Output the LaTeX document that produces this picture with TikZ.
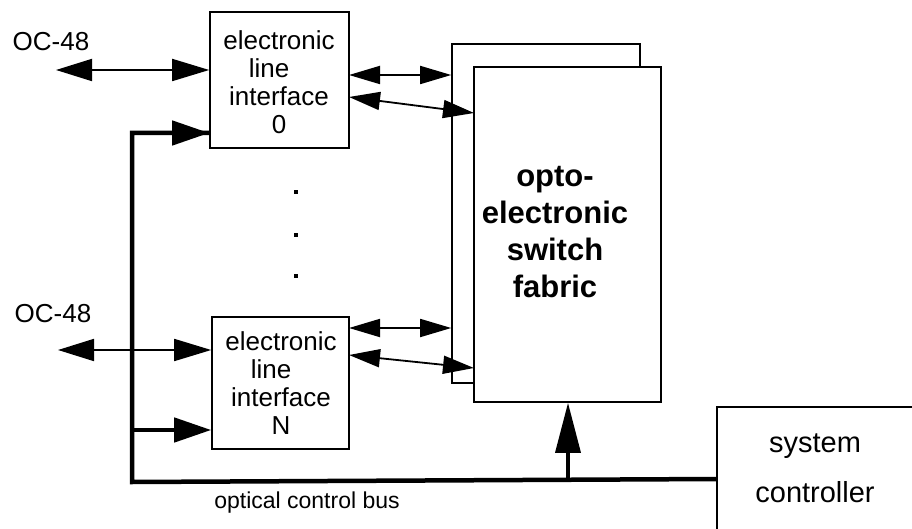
\documentclass[tikz,border=0pt]{standalone}
\usepackage{fontspec}
\setmainfont{Liberation Sans}
\usetikzlibrary{arrows.meta}
\tikzset{
  box/.style={draw, line width=1.6pt, fill=white, inner sep=0pt},
  boxtext/.style={align=center, font=\fontsize{26}{28}\selectfont},
  sig/.style={line width=1.8pt},
  bigtip/.style={-{Triangle[length=37pt,width=22pt]}},
  bigboth/.style={{Triangle[length=36pt,width=22pt]}-{Triangle[length=37pt,width=22pt]}},
  smallboth/.style={{Triangle[length=31pt,width=18pt]}-{Triangle[length=31pt,width=18pt]}},
  bus/.style={line width=4.5pt},
  dotmark/.style={fill=black, minimum size=4pt, inner sep=0pt},
  label/.style={font=\fontsize{26}{28}\selectfont}
}
\begin{document}
\begin{tikzpicture}[x=1pt,y=-1pt]
\useasboundingbox (0,0) rectangle (912,529);
% fabric
\node[box, minimum width=188pt, minimum height=339pt] (fabback) at (546,213.5) {};
\node[box, minimum width=187pt, minimum height=335pt] (fabfront) at (567.5,234.5) {};
\node[align=center, font=\bfseries\fontsize{31}{37}\selectfont] (fabtext) at (555,232)
  {opto-\\electronic\\switch\\fabric};
% line interfaces
\node[box, minimum width=139pt, minimum height=136pt] (box0) at (279.5,80) {};
\node[boxtext] (box0text) at (279,82) {electronic\\line\rule{20pt}{0pt}\\interface\\0};
\node[box, minimum width=137pt, minimum height=132pt] (boxN) at (280.5,383) {};
\node[boxtext] (boxNtext) at (281,383) {electronic\\line\rule{20pt}{0pt}\\interface\\N};
% system controller
\node[align=center, font=\fontsize{29}{50}\selectfont] (sysctrl) at (815,468) {system\\controller};
\coordinate (scTR) at (912,407);
\coordinate (scTL) at (717,407);
\coordinate (scBL) at (717,529);
\draw[line width=1.6pt] (scTR) -- (scTL) -- (scBL);
% labels
\node[label] (oc0) at (51,42) {OC-48};
\node[label] (ocN) at (53,314) {OC-48};
\node[font=\fontsize{23}{25}\selectfont] (buslabel) at (307,503) {optical control bus};
% dots
\node[dotmark] (d1) at (296,192) {};
\node[dotmark] (d2) at (296,235) {};
\node[dotmark] (d3) at (296,276) {};
% OC-48 connections
\coordinate (oc0end) at (56,70);
\coordinate (ocNend) at (58,350);
\draw[sig, bigboth] (oc0end) -- (oc0end -| box0.west);
\draw[sig, bigboth] (ocNend) -- (ocNend -| boxN.west);
% box to fabric
\coordinate (a0) at (349,75);
\coordinate (b0) at (349,97);
\coordinate (b0e) at (474,113);
\coordinate (aN) at (349,328);
\coordinate (bN) at (349,355);
\coordinate (bNe) at (474,368);
\draw[sig, smallboth] (a0) -- (a0 -| fabback.west);
\draw[sig, smallboth] (b0) -- (b0e);
\draw[sig, smallboth] (aN) -- (aN -| fabback.west);
\draw[sig, smallboth] (bN) -- (bNe);
% optical control bus
\coordinate (busTL) at (132,133);
\coordinate (busN) at (132,430);
\coordinate (busBL) at (132,482);
\coordinate (busR) at (717,479);
\coordinate (upfoot) at (568,480);
\draw[bus, line join=miter] (busR) -- (busBL) -- (busTL) -- (busTL -| box0.west);
\draw[bus, -{Triangle[length=37pt,width=24pt]}] (busTL) -- (busTL -| box0.west);
\draw[bus, -{Triangle[length=37pt,width=24pt]}] (busN) -- (busN -| boxN.west);
\draw[line width=3.5pt, -{Triangle[length=50pt,width=25pt]}] (upfoot) -- (upfoot |- fabfront.south);
\end{tikzpicture}
\end{document}
